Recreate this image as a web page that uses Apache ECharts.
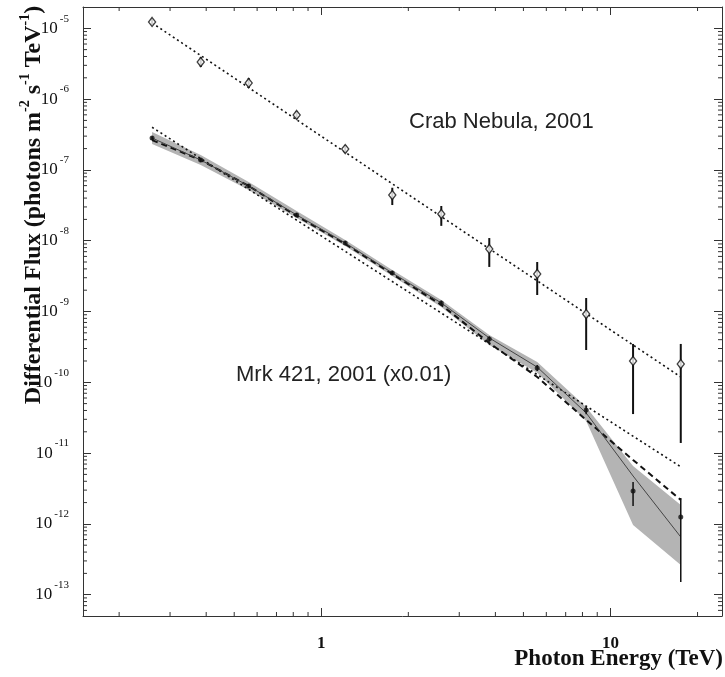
<!DOCTYPE html>
<html>
<head>
<meta charset="utf-8">
<script src="https://cdn.jsdelivr.net/npm/echarts@6/dist/echarts.min.js"></script>
<style>
html, body { margin: 0; padding: 0; background: #fff; }
#chart { width: 725px; height: 677px; }
</style>
</head>
<body>
<div id="chart"></div>
<script>
// energy bins (TeV), shared by both sources
const energy = [0.26, 0.383, 0.561, 0.822, 1.21, 1.76, 2.60, 3.81, 5.58, 8.24, 11.97, 17.5]

// Crab Nebula, 2001
const crabFlux = [1.23e-5, 3.34e-6, 1.69e-6, 5.97e-7, 1.97e-7, 4.42e-8, 2.38e-8, 7.64e-9, 3.39e-9, 9.2e-10, 2.0e-10, 1.81e-10]
const crabErrHi = [1.36e-5, 3.94e-6, 1.99e-6, 6.8e-7, 2.25e-7, 5.6e-8, 3.09e-8, 1.09e-8, 5.0e-9, 1.55e-9, 3.48e-10, 3.48e-10]
const crabErrLo = [1.11e-5, 2.84e-6, 1.44e-6, 5.2e-7, 1.73e-7, 3.19e-8, 1.62e-8, 4.26e-9, 1.71e-9, 2.86e-10, 3.56e-11, 1.39e-11]
const crabFitE = [0.26, 17.5]
const crabFitF = [1.19e-5, 1.19e-10]

// Mrk 421, 2001 (x0.01)
const mrkFlux = [2.82e-7, 1.38e-7, 5.93e-8, 2.31e-8, 9.29e-9, 3.50e-9, 1.32e-9, 4.09e-10, 1.59e-10, 4.06e-11, 2.92e-12, 1.25e-12]
const mrkErrHi = [3.0e-7, 1.47e-7, 6.3e-8, 2.46e-8, 9.9e-9, 3.75e-9, 1.42e-9, 4.45e-10, 1.75e-10, 4.6e-11, 3.91e-12, 2.32e-12]
const mrkErrLo = [2.65e-7, 1.29e-7, 5.55e-8, 2.16e-8, 8.7e-9, 3.27e-9, 1.22e-9, 3.75e-10, 1.44e-10, 3.55e-11, 1.79e-12, 1.51e-13]
const mrkCurve = [2.82e-7, 1.38e-7, 5.93e-8, 2.31e-8, 9.29e-9, 3.50e-9, 1.32e-9, 4.23e-10, 1.64e-10, 3.69e-11, 4.75e-12, 6.53e-13]
const mrkBandHi = [3.43e-7, 1.63e-7, 6.75e-8, 2.63e-8, 1.02e-8, 3.85e-9, 1.45e-9, 4.66e-10, 1.94e-10, 4.48e-11, 6.58e-12, 1.85e-12]
const mrkBandLo = [2.32e-7, 1.17e-7, 5.2e-8, 2.09e-8, 8.4e-9, 3.18e-9, 1.16e-9, 3.36e-10, 1.36e-10, 2.84e-11, 9.66e-13, 2.63e-13]
const mrkCutoff = [2.64e-7, 1.38e-7, 5.93e-8, 2.23e-8, 9.0e-9, 3.39e-9, 1.24e-9, 3.59e-10, 1.19e-10, 2.94e-11, 8.0e-12, 2.18e-12]
const mrkPowE = [0.26, 17.5]
const mrkPowF = [4.0e-7, 6.4e-12]

const X_MIN = 0.15, X_MAX = 24.3
const Y_MIN = 5e-14, Y_MAX = 2e-5
const serif = 'Liberation Serif'
const sans = 'Liberation Sans'
const ink = '#111'

const isPow10 = v => Math.abs(Math.log10(v) - Math.round(Math.log10(v))) < 1e-6

// minor tick positions 2..9 x 10^k
const xMinor = []
for (let k = -1; k <= 1; k++) {
    for (let m = 2; m <= 9; m++) {
        const v = m * Math.pow(10, k)
        if (v > X_MIN && v < X_MAX) xMinor.push(v)
    }
}
const yMinor = []
for (let k = -14; k <= -5; k++) {
    for (let m = 2; m <= 9; m++) {
        const v = m * Math.pow(10, k)
        if (v > Y_MIN && v < Y_MAX) yMinor.push(v)
    }
}

const pairs = (xs, ys) => xs.map((x, i) => [x, ys[i]])

const errorBar = width => (params, api) => {
    const hi = api.coord([api.value(0), api.value(2)])
    const lo = api.coord([api.value(0), api.value(1)])
    return {
        type: 'line',
        shape: { x1: hi[0], y1: hi[1], x2: lo[0], y2: lo[1] },
        style: { stroke: ink, lineWidth: width }
    }
}

const tickLine = (x1, y1, x2, y2) => ({
    type: 'line',
    shape: { x1, y1, x2, y2 },
    style: { stroke: '#333', lineWidth: 1 }
})

const baseX = {
    type: 'log',
    logBase: 10,
    min: X_MIN,
    max: X_MAX,
    axisLine: { lineStyle: { color: '#333', width: 1 } },
    axisTick: { inside: true, length: 8, lineStyle: { color: '#333' } },
    splitLine: { show: false },
    minorTick: { show: false }
}
const baseY = {
    type: 'log',
    logBase: 10,
    min: Y_MIN,
    max: Y_MAX,
    axisLine: { lineStyle: { color: '#333', width: 1 } },
    axisTick: { inside: true, length: 8, lineStyle: { color: '#333' } },
    splitLine: { show: false },
    minorTick: { show: false }
}

const chart = echarts.init(document.getElementById('chart'))

const option = {
    animation: false,
    backgroundColor: '#fff',
    grid: { left: 83, right: 2, top: 7, bottom: 61 },
    xAxis: [
        Object.assign({}, baseX, {
            position: 'bottom',
            axisLabel: {
                formatter: v => isPow10(v) ? String(Math.round(v)) : '',
                margin: 19,
                fontFamily: serif,
                fontSize: 17,
                fontWeight: 'bold',
                color: ink
            }
        }),
        Object.assign({}, baseX, { position: 'top', axisLabel: { show: false } })
    ],
    yAxis: [
        Object.assign({}, baseY, {
            position: 'left',
            axisLabel: {
                formatter: v => isPow10(v) ? '{b|10}{s|' + Math.round(Math.log10(v)) + '}' : '',
                margin: 14,
                rich: {
                    b: { fontFamily: serif, fontSize: 17, lineHeight: 30, color: ink },
                    s: { fontFamily: serif, fontSize: 11, lineHeight: 12, verticalAlign: 'top', padding: [0, 0, 0, 2], color: ink }
                }
            }
        }),
        Object.assign({}, baseY, { position: 'right', axisLabel: { show: false } })
    ],
    graphic: [
        {
            type: 'text', x: 409, y: 122,
            style: { text: 'Crab Nebula, 2001', fontFamily: sans, fontSize: 22, fill: '#222', align: 'left', verticalAlign: 'middle' }
        },
        {
            type: 'text', x: 236, y: 375,
            style: { text: 'Mrk 421, 2001 (x0.01)', fontFamily: sans, fontSize: 22, fill: '#222', align: 'left', verticalAlign: 'middle' }
        },
        {
            type: 'text', x: 723, y: 659,
            style: { text: 'Photon Energy (TeV)', fontFamily: serif, fontSize: 23, fontWeight: 'bold', fill: ink, align: 'right', verticalAlign: 'middle' }
        },
        {
            type: 'text', x: 34, y: 205, rotation: Math.PI / 2,
            style: {
                text: '{t|Differential Flux (photons m}{s|-2}{t| s}{s|-1}{t| TeV}{s|-1}{t|)}',
                align: 'center',
                verticalAlign: 'middle',
                rich: {
                    t: { fontFamily: serif, fontSize: 24, fontWeight: 'bold', lineHeight: 32, fill: ink },
                    s: { fontFamily: serif, fontSize: 14, fontWeight: 'bold', lineHeight: 15, verticalAlign: 'top', fill: ink }
                }
            }
        }
    ],
    series: [
        {
            // confidence band of the Mrk 421 curved fit
            name: 'band',
            type: 'custom',
            data: energy.map((e, i) => [e, mrkBandLo[i], mrkBandHi[i]]),
            encode: { x: 0, y: [1, 2] },
            silent: true,
            z: 1,
            renderItem: (params, api) => {
                if (params.dataIndex !== 0) return null
                const upper = energy.map((e, i) => api.coord([e, mrkBandHi[i]]))
                const lower = energy.map((e, i) => api.coord([e, mrkBandLo[i]])).reverse()
                return { type: 'polygon', shape: { points: upper.concat(lower) }, style: { fill: '#b4b4b4' } }
            }
        },
        {
            name: 'crab fit',
            type: 'line',
            data: pairs(crabFitE, crabFitF),
            symbol: 'none',
            z: 3,
            lineStyle: { color: ink, width: 1.6, type: [2, 3] }
        },
        {
            name: 'mrk power law',
            type: 'line',
            data: pairs(mrkPowE, mrkPowF),
            symbol: 'none',
            z: 3,
            lineStyle: { color: ink, width: 1.6, type: [2, 3] }
        },
        {
            name: 'mrk cutoff',
            type: 'line',
            data: pairs(energy, mrkCutoff),
            symbol: 'none',
            z: 3,
            lineStyle: { color: ink, width: 2, type: [6, 4] }
        },
        {
            name: 'mrk curved',
            type: 'line',
            data: pairs(energy, mrkCurve),
            symbol: 'none',
            z: 3,
            lineStyle: { color: '#444', width: 1 }
        },
        {
            name: 'crab err',
            type: 'custom',
            data: energy.map((e, i) => [e, crabErrLo[i], crabErrHi[i]]),
            encode: { x: 0, y: [1, 2] },
            z: 4,
            renderItem: errorBar(2)
        },
        {
            name: 'mrk err',
            type: 'custom',
            data: energy.map((e, i) => [e, mrkErrLo[i], mrkErrHi[i]]),
            encode: { x: 0, y: [1, 2] },
            z: 4,
            renderItem: errorBar(1.5)
        },
        {
            name: 'Crab Nebula',
            type: 'scatter',
            data: pairs(energy, crabFlux),
            symbol: 'diamond',
            symbolSize: [7, 9],
            z: 5,
            itemStyle: { color: '#fff', borderColor: ink, borderWidth: 1.4 }
        },
        {
            name: 'Mrk 421',
            type: 'scatter',
            data: pairs(energy, mrkFlux),
            symbol: 'circle',
            symbolSize: 5,
            z: 5,
            itemStyle: { color: ink }
        },
        {
            // minor ticks on bottom and top axes
            type: 'custom',
            data: xMinor.map(v => [v, Y_MIN]),
            silent: true,
            clip: false,
            z: 6,
            renderItem: (params, api) => {
                const b = api.coord([api.value(0), Y_MIN])
                const t = api.coord([api.value(0), Y_MAX])
                return {
                    type: 'group',
                    children: [tickLine(b[0], b[1], b[0], b[1] - 4), tickLine(t[0], t[1], t[0], t[1] + 4)]
                }
            }
        },
        {
            // minor ticks on left and right axes
            type: 'custom',
            data: yMinor.map(v => [X_MIN, v]),
            silent: true,
            clip: false,
            z: 6,
            renderItem: (params, api) => {
                const l = api.coord([X_MIN, api.value(1)])
                const r = api.coord([X_MAX, api.value(1)])
                return {
                    type: 'group',
                    children: [tickLine(l[0], l[1], l[0] + 4, l[1]), tickLine(r[0], r[1], r[0] - 4, r[1])]
                }
            }
        }
    ]
}

chart.setOption(option)
</script>
</body>
</html>
